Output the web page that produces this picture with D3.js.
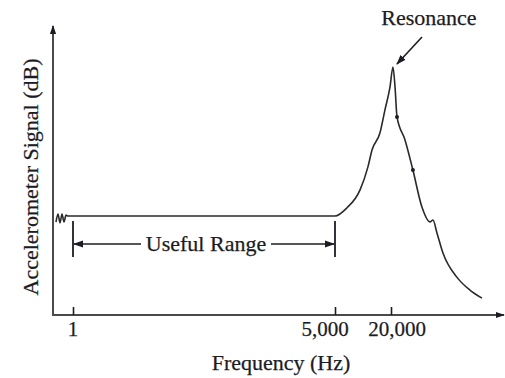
<!DOCTYPE html>
<html>
<head>
<meta charset="utf-8">
<script src="https://cdn.jsdelivr.net/npm/d3@7"></script>
<style>
  body { margin: 0; background: #fff; }
  text { font-family: "Liberation Serif", "DejaVu Serif", serif; fill: #1c1c24; stroke: #1c1c24; stroke-width: 0.25; }
</style>
</head>
<body>
<svg id="chart" width="505" height="378"></svg>
<script>
// frequency (Hz) and signal (dB, arbitrary 0-100)
const freqs = [0.575, 0.614, 0.655, 0.7, 0.746, 0.797, 0.85, 5000, 6700, 9300, 11300, 12500, 15200, 17200, 19500, 21000,
  22100, 23200, 28300, 34400, 43000, 52500, 56500, 62400, 72400, 102000, 141000, 190000];
const signal = [32.4, 35.2, 32.1, 35.2, 32.4, 34.8, 34.5, 34.5, 37.3, 43.6, 51.6, 57.5, 63.4, 71.4, 79.4, 86.4,
  79.4, 69.0, 61.0, 50.5, 37.6, 32.4, 33.1, 28.6, 21.6, 13.2, 8.7, 5.9];
const dotFreqs = [23200, 34400];
const dotSignal = [69.0, 50.5];

const tickValues = [1, 5000, 20000];
const tickLabels = ['1', '5,000', '20,000'];
const tickShift = [0, -10, 6];

const usefulRange = [1, 5000];
const peak = { f: 21000, db: 86.4 };

const svg = d3.select('#chart');

const x = d3.scaleLog()
	.domain([1, 5000, 20000])
	.range([73, 335, 391]);

const y = d3.scaleLinear()
	.domain([0, 100])
	.range([315, 28]);

const ink = '#1c1c24';
const axisColour = '#4a4a4a';

const defs = svg.append('defs');
function arrowMarker(id, size) {
	defs.append('marker')
		.attr('id', id)
		.attr('viewBox', '0 -5 10 10')
		.attr('refX', 9)
		.attr('markerUnits', 'userSpaceOnUse')
		.attr('markerWidth', size)
		.attr('markerHeight', size)
		.attr('orient', 'auto')
		.append('path')
		.attr('d', 'M0,-3.5L10,0L0,3.5Z')
		.attr('fill', ink);
}
arrowMarker('axis-arrow', 9);
arrowMarker('dim-arrow', 10);

// axes
const x0 = 53;
svg.append('line')
	.attr('x1', x0).attr('y1', y(0))
	.attr('x2', 504).attr('y2', y(0))
	.attr('stroke', axisColour).attr('stroke-width', 2)
	.attr('marker-end', 'url(#axis-arrow)');

svg.append('line')
	.attr('x1', x0).attr('y1', y(0) + 1)
	.attr('x2', x0).attr('y2', 26)
	.attr('stroke', axisColour).attr('stroke-width', 2)
	.attr('marker-end', 'url(#axis-arrow)');

const xAxis = svg.append('g')
	.attr('transform', `translate(0,${y(0)})`)
	.call(d3.axisBottom(x).tickValues(tickValues).tickSize(-8).tickFormat(''));
xAxis.select('.domain').remove();
xAxis.selectAll('.tick line').attr('stroke', ink).attr('stroke-width', 1.6);

svg.append('g')
	.selectAll('text')
	.data(tickValues)
	.enter().append('text')
	.attr('x', (d, i) => x(d) + tickShift[i])
	.attr('y', 336)
	.attr('text-anchor', 'middle')
	.style('font-size', '21px')
	.text((d, i) => tickLabels[i]);

// axis titles
svg.append('text')
	.attr('x', 281)
	.attr('y', 370)
	.attr('text-anchor', 'middle')
	.style('font-size', '22px')
	.text('Frequency (Hz)');

svg.append('text')
	.attr('transform', 'translate(38,177) rotate(-90)')
	.attr('text-anchor', 'middle')
	.style('font-size', '22px')
	.text('Accelerometer Signal (dB)');

// response curve
const line = d3.line()
	.x((d, i) => x(freqs[i]))
	.y((d, i) => y(signal[i]))
	.curve(d3.curveMonotoneX);

svg.append('path')
	.datum(freqs)
	.attr('d', line)
	.attr('fill', 'none')
	.attr('stroke', '#2a2a2a')
	.attr('stroke-width', 1.6);

svg.append('g')
	.selectAll('circle')
	.data(dotFreqs)
	.enter().append('circle')
	.attr('cx', d => x(d))
	.attr('cy', (d, i) => y(dotSignal[i]))
	.attr('r', 2)
	.attr('fill', ink);

// useful range dimension
const dimY = 244;
const dim = svg.append('g');
usefulRange.forEach(f => {
	dim.append('line')
		.attr('x1', x(f)).attr('x2', x(f))
		.attr('y1', 221).attr('y2', 257)
		.attr('stroke', ink).attr('stroke-width', 1.8);
});
dim.append('line')
	.attr('x1', 141).attr('y1', dimY)
	.attr('x2', x(usefulRange[0]) + 1).attr('y2', dimY)
	.attr('stroke', ink).attr('stroke-width', 1.6)
	.attr('marker-end', 'url(#dim-arrow)');
dim.append('line')
	.attr('x1', 271).attr('y1', dimY)
	.attr('x2', x(usefulRange[1]) - 1).attr('y2', dimY)
	.attr('stroke', ink).attr('stroke-width', 1.6)
	.attr('marker-end', 'url(#dim-arrow)');
dim.append('text')
	.attr('x', 206)
	.attr('y', 251)
	.attr('text-anchor', 'middle')
	.style('font-size', '22px')
	.text('Useful Range');

// resonance annotation
svg.append('line')
	.attr('x1', 422).attr('y1', 37)
	.attr('x2', x(peak.f) + 4).attr('y2', y(peak.db) - 3)
	.attr('stroke', ink).attr('stroke-width', 1.6)
	.attr('marker-end', 'url(#dim-arrow)');

svg.append('text')
	.attr('x', 429)
	.attr('y', 25)
	.attr('text-anchor', 'middle')
	.style('font-size', '22px')
	.text('Resonance');
</script>
</body>
</html>
